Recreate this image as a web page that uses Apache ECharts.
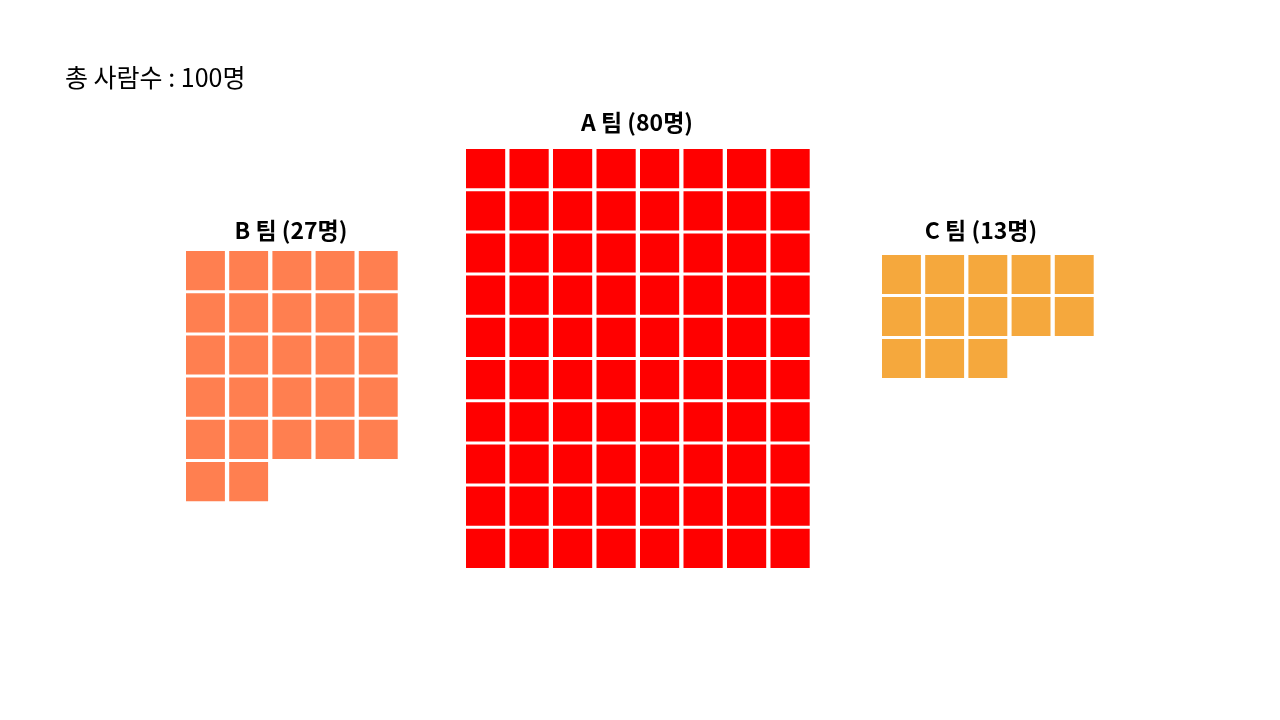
<!DOCTYPE html>
<html><head><meta charset="utf-8">
<script src="https://cdn.jsdelivr.net/npm/echarts@6/dist/echarts.min.js"></script>
<style>html,body{margin:0;padding:0;background:#fff}#c{width:1280px;height:720px}</style>
</head><body><div id="c"></div>
<script>
const teams = ['A 팀', 'B 팀', 'C 팀'];
const counts = [80, 27, 13];
const columns = [8, 5, 5];
const colors = ['#FF0000', '#FF7F50', '#F5A83D'];
const totalLabel = '총 사람수 : 100명';

// layout per team (pixels)
const layout = [
  {left: 466, top: 149, pitchX: 43.5, pitchY: 42.2, titleX: 637, titleY: 122},
  {left: 186, top: 251, pitchX: 43.2, pitchY: 42.2, titleX: 291, titleY: 230},
  {left: 882, top: 255, pitchX: 43.2, pitchY: 42.0, titleX: 981, titleY: 230}
];
const gapX = 4.3, gapY = 3;
const FONT = '"Noto Sans CJK KR", "Noto Sans", sans-serif';

const grids = [], xAxes = [], yAxes = [], series = [], texts = [];
teams.forEach((t, i) => {
  const cols = columns[i];
  const rows = Math.ceil(counts[i] / cols);
  const L = layout[i];
  grids.push({left: L.left, top: L.top, width: cols * L.pitchX, height: rows * L.pitchY, containLabel: false});
  xAxes.push({type: 'value', gridIndex: i, min: 0, max: cols, show: false});
  yAxes.push({type: 'value', gridIndex: i, min: 0, max: rows, inverse: true, show: false});
  const cells = [];
  for (let k = 0; k < counts[i]; k++) cells.push([k % cols, Math.floor(k / cols)]);
  series.push({
    type: 'custom', xAxisIndex: i, yAxisIndex: i, data: cells,
    renderItem: (params, api) => {
      const p0 = api.coord([api.value(0), api.value(1)]);
      const p1 = api.coord([api.value(0) + 1, api.value(1) + 1]);
      return {type: 'rect', shape: {x: p0[0], y: p0[1], width: p1[0] - p0[0] - gapX, height: p1[1] - p0[1] - gapY},
        style: {fill: colors[i]}};
    },
    silent: true
  });
  texts.push({
    type: 'text', x: L.titleX, y: L.titleY,
    style: {text: t + ' (' + counts[i] + '명)', align: 'center', verticalAlign: 'middle',
      font: 'bold 23px ' + FONT, fill: '#000'}
  });
});
texts.push({type: 'text', x: 65, y: 77,
  style: {text: totalLabel, align: 'left', verticalAlign: 'middle', font: '25px ' + FONT, fill: '#000'}});

const chart = echarts.init(document.getElementById('c'), null, {renderer: 'canvas'});
chart.setOption({
  animation: false,
  backgroundColor: '#fff',
  graphic: texts,
  grid: grids, xAxis: xAxes, yAxis: yAxes, series: series
});
</script></body></html>
